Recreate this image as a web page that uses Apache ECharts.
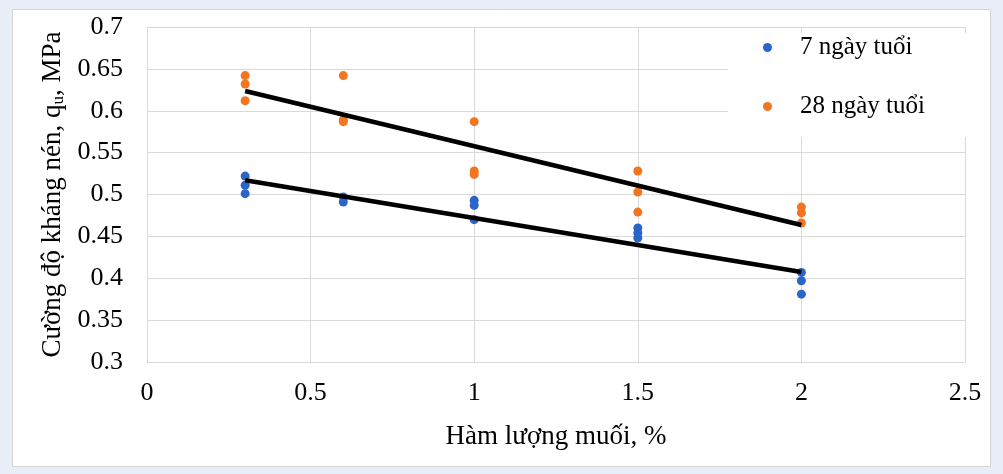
<!DOCTYPE html>
<html><head><meta charset="utf-8">
<script src="https://cdn.jsdelivr.net/npm/echarts@6/dist/echarts.min.js"></script>
<style>html,body{margin:0;padding:0;background:#e9edf7;}#c{width:1003px;height:474px;}</style>
</head><body><div id="c"></div>
<script>
// Data
const seriesNames = ['7 ngày tuổi', '28 ngày tuổi'];
const day7 = [
  [0.3, 0.522], [0.3, 0.511], [0.3, 0.501],
  [0.6, 0.497], [0.6, 0.491],
  [1.0, 0.493], [1.0, 0.487], [1.0, 0.470],
  [1.5, 0.460], [1.5, 0.454], [1.5, 0.448],
  [2.0, 0.407], [2.0, 0.397], [2.0, 0.381]
];
const day28 = [
  [0.3, 0.642], [0.3, 0.632], [0.3, 0.612],
  [0.6, 0.642], [0.6, 0.589], [0.6, 0.587],
  [1.0, 0.587], [1.0, 0.528], [1.0, 0.524],
  [1.5, 0.528], [1.5, 0.503], [1.5, 0.479],
  [2.0, 0.485], [2.0, 0.478], [2.0, 0.466]
];
const trend7 = [[0.3, 0.517], [2.0, 0.4075]];
const trend28 = [[0.3, 0.6236], [2.0, 0.4636]];
const xTitle = 'Hàm lượng muối, %';
const yTitle = 'Cường độ kháng nén, q{sub|u}, MPa';

const font = '"Liberation Serif", "DejaVu Serif", serif';
const grid = '#d9d9d9';
const chart = echarts.init(document.getElementById('c'), null, {renderer: 'canvas'});
chart.setOption({
  backgroundColor: '#e9edf7',
  animation: false,
  graphic: [{
    type: 'rect', z: -10, silent: true,
    shape: {x: 12.5, y: 9.5, width: 978, height: 457},
    style: {fill: '#ffffff', stroke: '#d4d4d4', lineWidth: 1}
  }],
  grid: {left: 147, right: 38, top: 27, bottom: 112, containLabel: false},
  xAxis: {
    type: 'value', min: 0, max: 2.5, interval: 0.5,
    axisLine: {show: true, lineStyle: {color: grid}},
    axisTick: {show: false},
    splitLine: {show: true, lineStyle: {color: grid, width: 1}},
    axisLabel: {color: '#000', fontFamily: font, fontSize: 26, margin: 18},
    name: xTitle, nameLocation: 'middle', nameGap: 61,
    nameTextStyle: {color: '#000', fontFamily: font, fontSize: 27}
  },
  yAxis: {
    type: 'value', min: 0.3, max: 0.7, interval: 0.05,
    axisLine: {show: true, lineStyle: {color: grid}},
    axisTick: {show: false},
    splitLine: {show: true, lineStyle: {color: grid, width: 1}},
    axisLabel: {color: '#000', fontFamily: font, fontSize: 26, margin: 24},
    name: yTitle, nameLocation: 'middle', nameGap: 79, nameRotate: 90,
    nameTextStyle: {color: '#000', fontFamily: font, fontSize: 27,
      rich: {sub: {fontFamily: font, fontSize: 17, color: '#000', verticalAlign: 'bottom', padding: [7, 0, 0, 0]}}}
  },
  legend: {
    left: 728, top: 33, orient: 'vertical',
    backgroundColor: '#ffffff',
    padding: [2, 60, 18, 35],
    itemGap: 34, itemWidth: 9, itemHeight: 9,
    data: [{name: seriesNames[0], icon: 'circle'}, {name: seriesNames[1], icon: 'circle'}],
    formatter: function (n) { return '{g|}{t|' + n + '}'; },
    textStyle: {color: '#000', fontFamily: font, fontSize: 25,
      rich: {g: {width: 23}, t: {fontFamily: font, fontSize: 25, color: '#000'}}}
  },
  series: [
    {name: seriesNames[0], type: 'scatter', data: day7, symbolSize: 9, itemStyle: {color: '#2a66c8', opacity: 1}, z: 3},
    {name: seriesNames[1], type: 'scatter', data: day28, symbolSize: 9, itemStyle: {color: '#f4741f', opacity: 1}, z: 3},
    {type: 'line', data: trend7, showSymbol: false, symbol: 'none', lineStyle: {color: '#000', width: 4.5}, z: 4, silent: true},
    {type: 'line', data: trend28, showSymbol: false, symbol: 'none', lineStyle: {color: '#000', width: 4.5}, z: 4, silent: true}
  ]
});
</script></body></html>
